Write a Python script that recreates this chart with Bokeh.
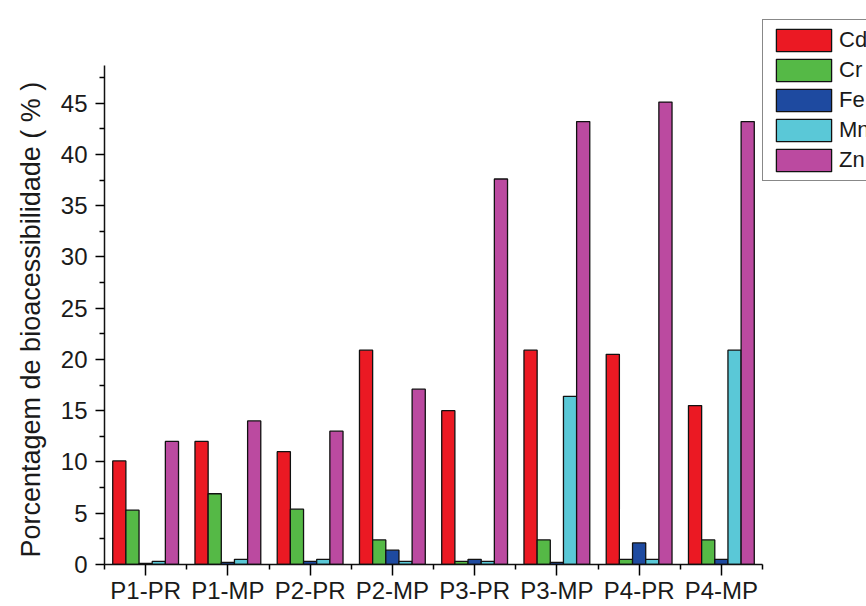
import numpy as np
from bokeh.plotting import figure
from bokeh.models import ColumnDataSource, Range1d, FixedTicker, Legend, LegendItem, Title
from bokeh.transform import dodge
from bokeh.embed import file_html
from bokeh.resources import INLINE

categories = ["P1-PR", "P1-MP", "P2-PR", "P2-MP", "P3-PR", "P3-MP", "P4-PR", "P4-MP"]
series_names = ["Cd", "Cr", "Fe", "Mn", "Zn"]
cd = [10.1, 12.0, 11.0, 20.9, 15.0, 20.9, 20.5, 15.5]
cr = [5.3, 6.9, 5.4, 2.4, 0.3, 2.4, 0.5, 2.4]
fe = [0.1, 0.2, 0.3, 1.4, 0.5, 0.2, 2.1, 0.5]
mn = [0.3, 0.5, 0.5, 0.3, 0.3, 16.4, 0.5, 20.9]
zn = [12.0, 14.0, 13.0, 17.1, 37.6, 43.2, 45.1, 43.2]
y_ticks = [0, 5, 10, 15, 20, 25, 30, 35, 40, 45]
y_axis_top = 48.7
y_label = "Porcentagem de bioacessibilidade ( % )"

colors = ["#eb1923", "#55b946", "#1e4aa0", "#5ac8d7", "#bb4aa0"]
FONT = "Liberation Sans"

# layout (screen px)
W, H = 866, 606
LEFT, AXIS_RIGHT, FRAME_TOP, AXIS_TOP, BOTTOM = 104, 762, 10, 65, 567
n = len(categories)
x_end = n * (W - LEFT) / (AXIS_RIGHT - LEFT)
y_end = y_axis_top * (BOTTOM - FRAME_TOP) / (BOTTOM - AXIS_TOP)

pos = np.arange(n) + 0.5
data = dict(x=pos, Cd=cd, Cr=cr, Fe=fe, Mn=mn, Zn=zn)
src = ColumnDataSource(data)

p = figure(width=W, height=H, output_backend="svg", toolbar_location=None,
           x_range=Range1d(0, x_end), y_range=Range1d(0, y_end),
           min_border_left=LEFT, min_border_right=0, min_border_top=FRAME_TOP,
           min_border_bottom=H - BOTTOM)
p.background_fill_color = "white"
p.border_fill_color = "white"
p.outline_line_color = None
p.xgrid.grid_line_color = None
p.ygrid.grid_line_color = None

bw = 0.16
renderers = []
for i, (name, c) in enumerate(zip(series_names, colors)):
    off = (i - 2) * bw
    r = p.vbar(x=dodge("x", off, range=p.x_range), top=name, width=bw, source=src,
               fill_color=c, line_color="#111111", line_width=1.3)
    renderers.append(r)

# x axis
xa = p.xaxis[0]
xa.bounds = (0, n)
xa.ticker = FixedTicker(ticks=list(pos), minor_ticks=list(np.arange(n + 1)))
xa.major_label_overrides = {float(v): c for v, c in zip(pos, categories)}
xa.major_label_text_font = FONT
xa.major_label_text_font_size = "24px"
xa.major_label_text_color = "#1a1a1a"
xa.major_tick_out = 11
xa.major_tick_in = 0
xa.minor_tick_out = 5
xa.minor_tick_in = 0
xa.major_label_standoff = 1
xa.axis_line_width = 1.5
xa.axis_line_color = "#111111"
xa.major_tick_line_width = 1.5
xa.minor_tick_line_width = 1.5

# y axis
ya = p.yaxis[0]
ya.bounds = (0, y_axis_top)
ya.ticker = FixedTicker(ticks=y_ticks, minor_ticks=[t + 2.5 for t in y_ticks])
ya.major_label_text_font = FONT
ya.major_label_text_font_size = "24px"
ya.major_label_text_color = "#1a1a1a"
ya.major_tick_out = 9
ya.major_tick_in = 0
ya.minor_tick_out = 5
ya.minor_tick_in = 0
ya.major_label_standoff = 8
ya.axis_line_width = 1.5
ya.axis_line_color = "#111111"
ya.major_tick_line_width = 1.5
ya.minor_tick_line_width = 1.5

# y axis title, anchored at the bottom of the axis
yt = Title(text=y_label, align="left", offset=7, vertical_align="bottom", standoff=24,
           text_font=FONT, text_font_size="27px", text_font_style="normal",
           text_color="#1a1a1a")
p.add_layout(yt, "left")

legend = Legend(items=[LegendItem(label=s, renderers=[r]) for s, r in zip(series_names, renderers)],
                location=(762 - LEFT, BOTTOM - 184))
legend.glyph_width = 69
legend.glyph_height = 28
legend.label_height = 22
legend.spacing = 2
legend.padding = 6
legend.margin = 0
legend.label_standoff = 1
legend.label_text_font = FONT
legend.label_text_font_size = "22px"
legend.label_text_color = "#1a1a1a"
legend.border_line_color = "#111111"
legend.border_line_width = 1.5
legend.background_fill_color = "white"
p.add_layout(legend, "center")

open("out.html", "w").write(file_html(p, INLINE))
